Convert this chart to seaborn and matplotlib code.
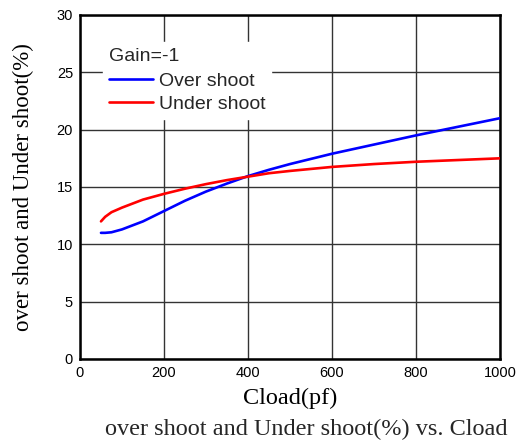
import matplotlib
matplotlib.use("Agg")
import matplotlib.pyplot as plt
import seaborn as sns
import pandas as pd

cload = [50, 60, 75, 100, 150, 200, 250, 300, 350, 400, 450, 500, 600, 700, 800, 900, 1000]
over_shoot = [11.0, 11.0, 11.05, 11.3, 12.0, 12.9, 13.8, 14.6, 15.3, 15.95, 16.5, 17.0, 17.9, 18.7, 19.5, 20.25, 21.0]
under_shoot = [12.0, 12.4, 12.8, 13.2, 13.9, 14.4, 14.85, 15.25, 15.6, 15.9, 16.2, 16.4, 16.75, 17.0, 17.2, 17.35, 17.5]
x_ticks = [0, 200, 400, 600, 800, 1000]
y_ticks = [0, 5, 10, 15, 20, 25, 30]

df = pd.concat([
    pd.DataFrame({"Cload": cload, "value": over_shoot, "series": "Over shoot"}),
    pd.DataFrame({"Cload": cload, "value": under_shoot, "series": "Under shoot"}),
])

sns.set_theme(style="white")
plt.rcParams["font.family"] = ["Liberation Sans", "DejaVu Sans"]
serif = ["Liberation Serif", "DejaVu Serif"]

fig = plt.figure(figsize=(5.16, 4.41), dpi=100)
ax = fig.add_axes([0.155, 0.186, 0.814, 0.780])

sns.lineplot(data=df, x="Cload", y="value", hue="series",
             palette={"Over shoot": "#0000ff", "Under shoot": "#ff0000"},
             linewidth=1.9, ax=ax, zorder=3)

ax.set_xlim(0, 1000)
ax.set_ylim(0, 30)
ax.set_xticks(x_ticks)
ax.set_yticks(y_ticks)
ax.grid(True, color="#333333", linewidth=1.0)
ax.tick_params(axis="both", length=0, pad=5, labelsize=10.5, colors="black")
for s in ax.spines.values():
    s.set_color("black")
    s.set_linewidth(1.8)

ax.set_xlabel("Cload(pf)", family=serif, fontsize=17.5, color="black", labelpad=6)
ax.set_ylabel("over shoot and Under shoot(%)", family=serif, fontsize=16.5, color="black", labelpad=16)
fig.text(0.594, 0.026, "over shoot and Under shoot(%) vs. Cload", family=serif,
         fontsize=17.5, ha="center", va="center")

leg = ax.legend(title="Gain=-1", loc="upper left", bbox_to_anchor=(0.055, 0.921), frameon=True,
                fontsize=14, title_fontsize=14, handlelength=2.27, handletextpad=0.3,
                borderpad=0.3, borderaxespad=0, labelspacing=0.3, fancybox=False)
leg.get_frame().set_edgecolor("white")
leg.get_frame().set_facecolor("white")
leg.get_frame().set_alpha(1.0)
leg._legend_box.align = "left"
leg._legend_box.sep = 5
leg.set_zorder(5)

fig.savefig("out.png", dpi=100, facecolor="white")
